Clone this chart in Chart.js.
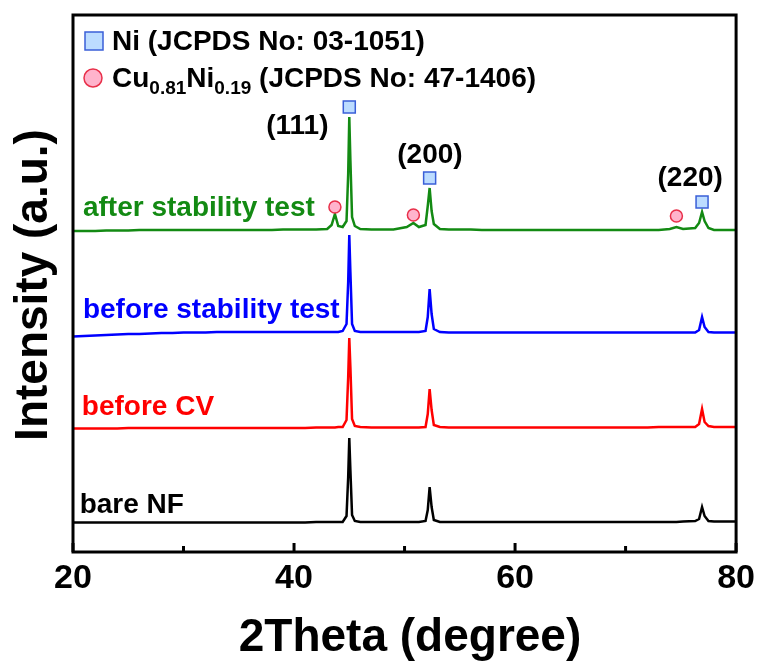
<!DOCTYPE html>
<html>
<head>
<meta charset="utf-8">
<script src="https://cdn.jsdelivr.net/npm/chart.js@4"></script>
<style>
  html, body { margin: 0; padding: 0; background: #fff; }
  canvas { display: block; }
</style>
</head>
<body>
<canvas id="c" width="761" height="666"></canvas>
<script>
// ---- data (2θ in degrees, intensity in a.u., offset-stacked as drawn) ----
const twoTheta = [
  20,21,22,23,24,25,26,27,28,29,30,31,32,33,34,35,36,37,38,39,40,41,42,
  43,43.4,43.7,44.0,44.4,44.75,44.9,45.0,45.1,45.25,45.5,46,
  47,48,49,50.2,50.8,51.3,51.9,52.1,52.27,52.45,52.65,53.2,
  54,55,56,57,58,59,60,61,62,63,64,65,66,67,68,69,70,71,72,73,
  74,74.6,75.2,76.3,76.65,76.92,77.15,77.5,78,79,80
];
const afterStability = [
  321,321,321,321.5,321.5,321.5,322,322,322,322,322,322,322,322,322,322,322,322,322,322.5,322.5,322.5,322.5,
  323,327,338,326,325,331,378,435,392,335,326,323,
  322.5,322.5,322.5,325,329,325,327,346,364,341,328,323,
  322.5,322.5,322.5,322,322,322,322,322,322,322,322,322,322,322,322,322,322,322,322,322,
  323,325,323,324,329,340,331,324,322,322,322
];
const beforeStability = [
  215.5,216,216.5,217,217.5,218,218,218.5,219,219,219.5,219.5,219.5,220,220,220,220,220,220,220,220,220,220,
  220,220,220,220,221,228,270,317,280,228,221,220,
  220,220,220,220,220,220,221,235,263,238,223,220,
  219.5,219.5,219.5,219.5,219.5,219.5,219.5,219.5,219.5,219.5,219.5,219.5,219.5,219.5,219.5,219.5,219.5,219.5,219.5,219.5,
  219.5,219.5,219.5,219.5,222,235,225,220,219.5,219.5,219.5
];
const beforeCV = [
  123.5,123.5,123.5,123.5,123.5,124,124,124,124,124,124,124,124,124,124,124,124,124,124,124,124,124,124.5,
  124.5,124.5,124.5,125,125,132,175,214,185,133,126,125,
  124.5,124.5,124.5,124.5,124.5,124.5,125,138,163,142,127,125,
  124.5,124.5,124.5,124.5,124.5,124.5,124.5,124.5,124.5,124.5,124.5,124.5,124.5,124.5,124.5,124.5,124.5,124.5,124.5,125,
  125,125,125,125,128,143,130,126,125,125,125
];
const bareNF = [
  29.5,29.5,29.5,29.5,29.5,29.5,29.5,29.5,29.5,29.5,29.5,29.5,29.5,29.5,29.5,29.5,29.5,29.5,29.5,29.5,29.5,29.5,30,
  30,30,30,30,30,36,75,114,82,37,31,30,
  30,30,30,30,30,30,31,42,65,45,32,30,
  30,30,30,30,30,30,30,30,30,30,30,30,30,30,30,30,30,30,30,30,
  30,30,30.5,31,33,45,36,31,30.5,30.5,30.5
];
const seriesNames = ['after stability test', 'before stability test', 'before CV', 'bare NF'];
const xTickLabels = [20, 40, 60, 80];

// reference-pattern markers (2θ, intensity)
const niTheta = [45.0, 52.27, 76.92];
const niMarkY = [445, 374, 350];
const cuNiTheta = [43.7, 50.8, 74.6];
const cuNiMarkY = [345, 337, 336];
const hklLabels = ['(111)', '(200)', '(220)'];
const hklTheta = [40.3, 52.3, 75.85];
const hklY = [426, 397, 374];

// ---- styling ----
const GREEN = '#138a13', BLUE = '#0000ff', RED = '#ff0000', BLACK = '#000000';
const colors = [GREEN, BLUE, RED, BLACK];
const seriesData = [afterStability, beforeStability, beforeCV, bareNF];
const labelPos = [[20.9, 336], [20.9, 234], [20.8, 137], [20.6, 39]];
const FONT = '"Liberation Sans", Arial, Helvetica, sans-serif';

const datasets = seriesData.map((arr, i) => ({
  label: seriesNames[i],
  data: twoTheta.map((t, k) => ({ x: t, y: arr[k] })),
  borderColor: colors[i],
  borderWidth: 2.5,
  pointRadius: 0,
  tension: 0,
  fill: false
}));

const overlay = {
  id: 'overlay',
  afterDatasetsDraw(chart) {
    const ctx = chart.ctx;
    const xs = chart.scales.x, ys = chart.scales.y;
    const a = chart.chartArea;
    ctx.save();

    // frame
    ctx.strokeStyle = '#000';
    ctx.lineWidth = 3;
    ctx.strokeRect(a.left, a.top, a.right - a.left, a.bottom - a.top);

    // ticks (inward, bottom)
    for (let v = 20; v <= 80; v += 10) {
      const px = xs.getPixelForValue(v);
      const len = (v % 20 === 0) ? 9 : 6;
      ctx.beginPath();
      ctx.moveTo(px, a.bottom);
      ctx.lineTo(px, a.bottom - len);
      ctx.stroke();
    }

    // series labels
    ctx.font = 'bold 28px ' + FONT;
    ctx.textAlign = 'left';
    ctx.textBaseline = 'alphabetic';
    seriesNames.forEach((n, i) => {
      ctx.fillStyle = colors[i];
      ctx.fillText(n, xs.getPixelForValue(labelPos[i][0]), ys.getPixelForValue(labelPos[i][1]));
    });

    // markers
    function square(x, y, s) {
      ctx.fillStyle = '#bcdcff';
      ctx.strokeStyle = '#3a5fd8';
      ctx.lineWidth = 1.5;
      ctx.fillRect(x - s / 2, y - s / 2, s, s);
      ctx.strokeRect(x - s / 2, y - s / 2, s, s);
    }
    function circle(x, y, r) {
      ctx.fillStyle = '#ffb3cc';
      ctx.strokeStyle = '#e8304a';
      ctx.lineWidth = 1.5;
      ctx.beginPath();
      ctx.arc(x, y, r, 0, Math.PI * 2);
      ctx.fill();
      ctx.stroke();
    }
    niTheta.forEach((t, i) => square(xs.getPixelForValue(t), ys.getPixelForValue(niMarkY[i]), 12));
    cuNiTheta.forEach((t, i) => circle(xs.getPixelForValue(t), ys.getPixelForValue(cuNiMarkY[i]), 6));

    // hkl labels
    ctx.fillStyle = '#000';
    ctx.font = 'bold 28px ' + FONT;
    ctx.textAlign = 'center';
    ctx.textBaseline = 'middle';
    hklLabels.forEach((l, i) => ctx.fillText(l, xs.getPixelForValue(hklTheta[i]), ys.getPixelForValue(hklY[i])));

    // legend
    square(94, 41, 18);
    circle(93, 78, 9);
    ctx.fillStyle = '#000';
    ctx.textAlign = 'left';
    ctx.textBaseline = 'alphabetic';
    const big = 'bold 28px ' + FONT, small = 'bold 19px ' + FONT;
    ctx.font = big;
    ctx.fillText('Ni (JCPDS No: 03-1051)', 112, 50);
    let x = 112;
    const parts = [['Cu', big, 0], ['0.81', small, 7], ['Ni', big, 0], ['0.19', small, 7], [' (JCPDS No: 47-1406)', big, 0]];
    parts.forEach(([t, f, dy]) => {
      ctx.font = f;
      ctx.fillText(t, x, 87 + dy);
      x += ctx.measureText(t).width;
    });

    // axis titles
    ctx.font = 'bold 46px ' + FONT;
    ctx.textAlign = 'center';
    ctx.textBaseline = 'middle';
    ctx.fillText('2Theta (degree)', 410, 638);
    ctx.translate(34, 285);
    ctx.rotate(-Math.PI / 2);
    ctx.fillText('Intensity (a.u.)', 0, 0);

    ctx.restore();
  }
};

new Chart(document.getElementById('c'), {
  type: 'line',
  data: { datasets },
  options: {
    responsive: false,
    animation: false,
    layout: { padding: { top: 15, right: 23, left: 0, bottom: 0 } },
    plugins: { legend: { display: false }, tooltip: { enabled: false } },
    scales: {
      x: {
        type: 'linear', min: 20, max: 80,
        afterFit(s) { s.height = 114; },
        grid: { display: false, drawTicks: false },
        border: { display: false },
        ticks: {
          stepSize: 10, autoSkip: false, maxRotation: 0, padding: 6,
          color: '#000',
          font: { size: 34, weight: 'bold', family: FONT },
          callback: v => xTickLabels.includes(v) ? String(v) : ''
        }
      },
      y: {
        min: 0, max: 537,
        afterFit(s) { s.width = 73; },
        grid: { display: false, drawTicks: false },
        border: { display: false },
        ticks: { display: false }
      }
    }
  },
  plugins: [overlay]
});
</script>
</body>
</html>
